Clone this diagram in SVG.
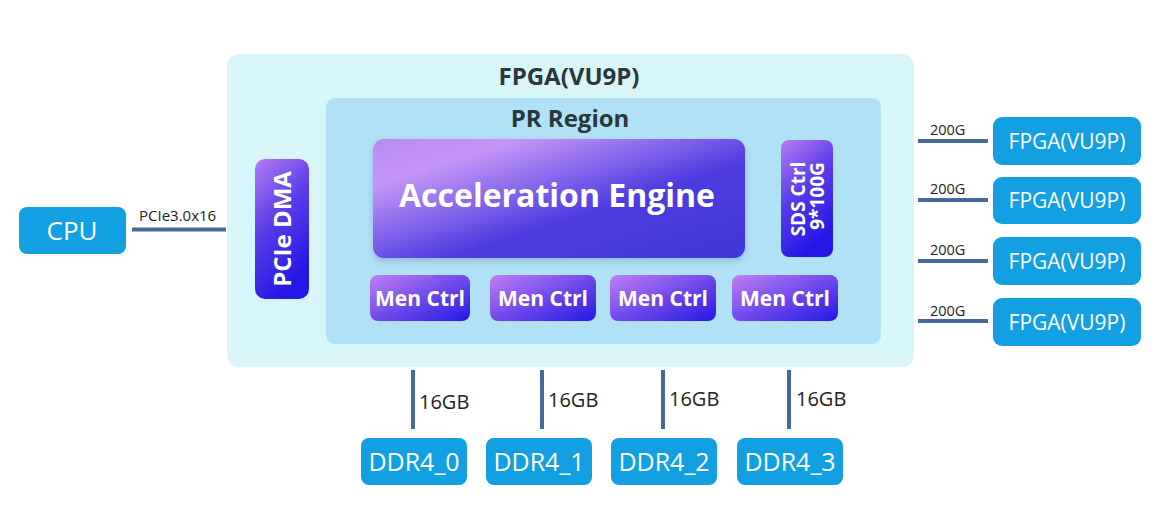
<svg xmlns="http://www.w3.org/2000/svg" width="1166" height="531" viewBox="0 0 1166 531">
<defs>
<linearGradient id="gAE" x1="0" y1="0" x2="1" y2="1">
<stop offset="0" stop-color="#b98cf2"/>
<stop offset="0.2" stop-color="#c395f7"/>
<stop offset="0.6" stop-color="#4d3be0"/>
<stop offset="1" stop-color="#3f38d8"/>
</linearGradient>
<linearGradient id="gS" x1="0" y1="0" x2="0.4" y2="1">
<stop offset="0" stop-color="#b77cf5"/>
<stop offset="0.5" stop-color="#5a3ce8"/>
<stop offset="1" stop-color="#2418e6"/>
</linearGradient>
<linearGradient id="gM" x1="0" y1="0" x2="1" y2="1">
<stop offset="0" stop-color="#c07ff5"/>
<stop offset="0.55" stop-color="#6a45ea"/>
<stop offset="1" stop-color="#2418e6"/>
</linearGradient>
<filter id="sh" x="-10%" y="-10%" width="120%" height="130%">
<feDropShadow dx="0" dy="3" stdDeviation="3" flood-color="#5a6aa0" flood-opacity="0.35"/>
</filter>
<style>
.blue{fill:#12a0e3}
.wt{fill:#fff;font-family:"Open Sans","Noto Sans",sans-serif;text-anchor:middle}
.bt{fill:#fff;font-family:"Open Sans","Noto Sans",sans-serif;font-weight:bold;text-anchor:middle}
.lbl{fill:#222;font-family:"Open Sans","Noto Sans",sans-serif}
.ttl{fill:#2b373b;font-family:"Open Sans","Noto Sans",sans-serif;font-weight:bold;text-anchor:middle}
.ln{stroke:#46699a;stroke-width:4;fill:none}
</style>
</defs>
<rect width="1166" height="531" fill="#fff"/>
<g id="fpga">
<rect x="227" y="54" width="687" height="313" rx="12" fill="#d8f5f9"/>
<text class="ttl" x="569" y="85" font-size="24">FPGA(VU9P)</text>
</g>
<g id="pr-region">
<rect x="326" y="98" width="555" height="246" rx="9" fill="#b1e1f5"/>
<text class="ttl" x="570" y="127" font-size="24">PR Region</text>
</g>
<g id="accel">
<rect x="373" y="139" width="372" height="119" rx="11" fill="url(#gAE)" filter="url(#sh)"/>
<text class="bt" x="557" y="207" font-size="32">Acceleration Engine</text>
</g>
<g id="sds">
<rect x="781" y="140" width="52" height="117" rx="8" fill="url(#gS)"/>
<text class="bt" font-size="19" transform="translate(805,199) rotate(-90)">SDS Ctrl</text>
<text class="bt" font-size="19" transform="translate(824,196) rotate(-90)">9*100G</text>
</g>
<g id="pcie-dma">
<rect x="255" y="159" width="54" height="140" rx="10" fill="url(#gS)"/>
<text class="bt" font-size="24" transform="translate(291,229) rotate(-90)">PCIe DMA</text>
</g>
<g id="men0"><rect x="370" y="275" width="100" height="46" rx="8" fill="url(#gM)"/><text class="bt" x="420" y="306" font-size="21">Men Ctrl</text></g>
<g id="men1"><rect x="490" y="275" width="106" height="46" rx="8" fill="url(#gM)"/><text class="bt" x="543" y="306" font-size="21">Men Ctrl</text></g>
<g id="men2"><rect x="610" y="275" width="106" height="46" rx="8" fill="url(#gM)"/><text class="bt" x="663" y="306" font-size="21">Men Ctrl</text></g>
<g id="men3"><rect x="732" y="275" width="106" height="46" rx="8" fill="url(#gM)"/><text class="bt" x="785" y="306" font-size="21">Men Ctrl</text></g>
<g id="cpu"><rect class="blue" x="19" y="207" width="107" height="47" rx="8"/><text class="wt" x="72" y="240" font-size="26">CPU</text></g>
<g id="fpga-r0"><rect class="blue" x="993" y="117" width="148" height="48" rx="9"/><text class="wt" x="1067" y="149" font-size="21">FPGA(VU9P)</text></g>
<g id="fpga-r1"><rect class="blue" x="993" y="177" width="148" height="47" rx="9"/><text class="wt" x="1067" y="208" font-size="21">FPGA(VU9P)</text></g>
<g id="fpga-r2"><rect class="blue" x="993" y="237" width="148" height="48" rx="9"/><text class="wt" x="1067" y="269" font-size="21">FPGA(VU9P)</text></g>
<g id="fpga-r3"><rect class="blue" x="993" y="298" width="148" height="48" rx="9"/><text class="wt" x="1067" y="330" font-size="21">FPGA(VU9P)</text></g>
<g id="ddr0"><rect class="blue" x="361" y="438" width="106" height="47" rx="8"/><text class="wt" x="414" y="471" font-size="25">DDR4_0</text></g>
<g id="ddr1"><rect class="blue" x="486" y="438" width="106" height="47" rx="8"/><text class="wt" x="539" y="471" font-size="25">DDR4_1</text></g>
<g id="ddr2"><rect class="blue" x="611" y="438" width="106" height="47" rx="8"/><text class="wt" x="664" y="471" font-size="25">DDR4_2</text></g>
<g id="ddr3"><rect class="blue" x="737" y="438" width="106" height="47" rx="8"/><text class="wt" x="790" y="471" font-size="25">DDR4_3</text></g>
<g id="connectors">
<line class="ln" x1="132" y1="229.5" x2="226" y2="229.5"/>
<text class="lbl" x="139" y="221" font-size="15">PCIe3.0x16</text>
<line class="ln" x1="918" y1="141" x2="988" y2="141"/>
<line class="ln" x1="918" y1="200" x2="988" y2="200"/>
<line class="ln" x1="918" y1="261" x2="988" y2="261"/>
<line class="ln" x1="918" y1="321" x2="988" y2="321"/>
<text class="lbl" x="930" y="135" font-size="14.5">200G</text>
<text class="lbl" x="930" y="194" font-size="14.5">200G</text>
<text class="lbl" x="930" y="255" font-size="14.5">200G</text>
<text class="lbl" x="930" y="316" font-size="14.5">200G</text>
<line class="ln" x1="413" y1="370" x2="413" y2="429"/>
<line class="ln" x1="542" y1="370" x2="542" y2="429"/>
<line class="ln" x1="663" y1="370" x2="663" y2="429"/>
<line class="ln" x1="789" y1="370" x2="789" y2="429"/>
<text class="lbl" x="419" y="409" font-size="20">16GB</text>
<text class="lbl" x="548" y="407" font-size="20">16GB</text>
<text class="lbl" x="669" y="406" font-size="20">16GB</text>
<text class="lbl" x="796" y="406" font-size="20">16GB</text>
</g>
</svg>
